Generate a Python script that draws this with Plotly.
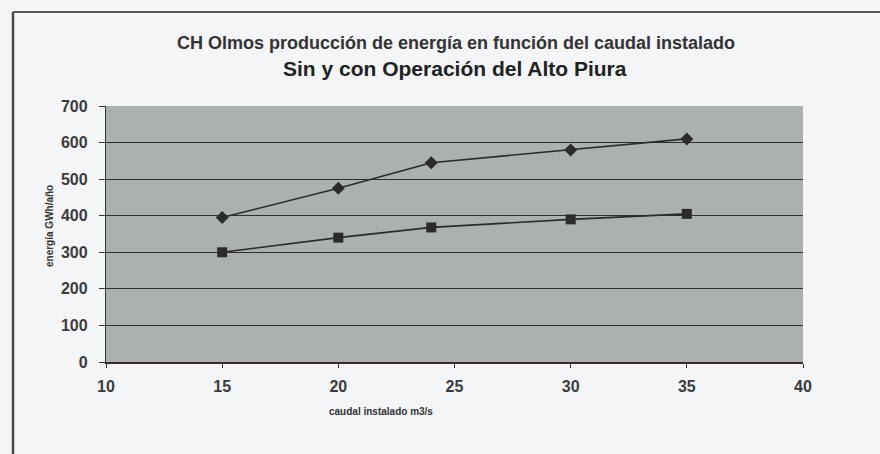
import plotly.graph_objects as go

caudal = [15, 20, 24, 30, 35]
sin_alto_piura = [300, 340, 368, 390, 405]
con_alto_piura = [395, 475, 545, 580, 610]
x_ticks = [10, 15, 20, 25, 30, 35, 40]
y_ticks = [0, 100, 200, 300, 400, 500, 600, 700]

title1 = "CH Olmos producción de energía en función del caudal instalado"
title2 = "Sin y con Operación del Alto Piura"
x_title = "caudal instalado m3/s"
y_title = "energía GWh/año"

fig = go.Figure()
fig.add_trace(go.Scatter(
    x=caudal, y=con_alto_piura, mode="lines+markers",
    line=dict(color="#2b2b2b", width=1.6),
    marker=dict(symbol="diamond", size=10, color="#2b2b2b"),
    name="Con Alto Piura"))
fig.add_trace(go.Scatter(
    x=caudal, y=sin_alto_piura, mode="lines+markers",
    line=dict(color="#2b2b2b", width=1.6),
    marker=dict(symbol="square", size=10, color="#2b2b2b"),
    name="Sin Alto Piura"))

font_main = "Liberation Sans, Arial, sans-serif"
W, H = 880, 454
L, R, T, B = 106, 77, 106, 92
pw, ph = W - L - R, H - T - B


def px(x):
    return (x - L) / pw


def py(y):
    return (H - B - y) / ph


fig.update_layout(
    width=W, height=H,
    margin=dict(l=L, r=R, t=T, b=B),
    paper_bgcolor="#f3f5f6",
    plot_bgcolor="#abb1ae",
    showlegend=False,
    font=dict(family=font_main, color="#3c3c3c"),
    xaxis=dict(
        range=[10, 40], tickvals=x_ticks, ticktext=["<b>%d</b>" % v for v in x_ticks],
        showgrid=False, zeroline=False,
        showline=True, linecolor="#3a2a30", linewidth=1.5,
        ticks="outside", ticklen=4, tickcolor="#333333",
        tickfont=dict(size=16, color="#3c3c3c"),
        ticklabelstandoff=5,
    ),
    yaxis=dict(
        range=[0, 700], tickvals=y_ticks, ticktext=["<b>%d</b>" % v for v in y_ticks],
        showgrid=True, gridcolor="#2e2e2e", gridwidth=1.3,
        zeroline=False,
        showline=True, linecolor="#333333", linewidth=1.3,
        ticks="outside", ticklen=6, tickcolor="#333333",
        tickfont=dict(size=16, color="#3c3c3c"),
        ticklabelstandoff=8,
    ),
    annotations=[
        dict(text="<b>" + title1 + "</b>", x=px(456), y=py(43), xref="paper", yref="paper",
             showarrow=False, font=dict(size=18, color="#333333", family=font_main),
             xanchor="center", yanchor="middle"),
        dict(text="<b>" + title2 + "</b>", x=px(455), y=py(68), xref="paper", yref="paper",
             showarrow=False, font=dict(size=21, color="#222222", family=font_main),
             xanchor="center", yanchor="middle"),
        dict(text="<b>" + x_title + "</b>", x=px(381), y=py(411),
             xref="paper", yref="paper", showarrow=False,
             font=dict(size=10, color="#333333", family=font_main),
             xanchor="center", yanchor="middle"),
        dict(text="<b>" + y_title + "</b>", x=px(49), y=py(226),
             xref="paper", yref="paper", showarrow=False, textangle=-90,
             font=dict(size=10, color="#333333", family=font_main),
             xanchor="center", yanchor="middle"),
    ],
    shapes=[
        dict(type="line", xref="paper", yref="paper",
             x0=px(13), x1=px(890), y0=py(12), y1=py(12),
             line=dict(color="#5a5a5a", width=2)),
        dict(type="line", xref="paper", yref="paper",
             x0=px(13), x1=px(13), y0=py(12), y1=py(470),
             line=dict(color="#4a4a4a", width=2.5)),
    ],
)

fig.write_html("out.html", config={"displayModeBar": False},
               post_script="document.body.style.margin='0';document.body.style.overflow='hidden';")
